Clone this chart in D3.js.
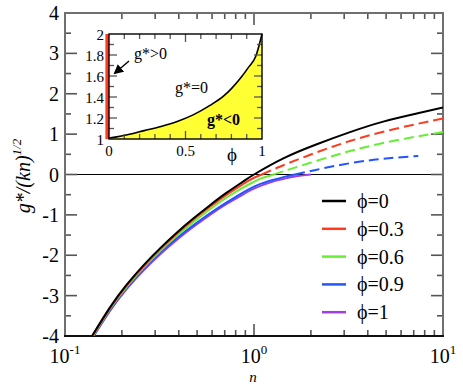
<!DOCTYPE html>
<html><head><meta charset="utf-8">
<script src="https://cdn.jsdelivr.net/npm/d3@7"></script>
<style>
body{margin:0;background:#fff}
svg{display:block}
</style>
</head><body>
<svg id="chart" width="463" height="387" font-family="'Liberation Serif','Times New Roman','DejaVu Serif','Noto Serif',serif"></svg>
<script>
// ---------------- data ----------------
const seriesLabels = ["ϕ=0","ϕ=0.3","ϕ=0.6","ϕ=0.9","ϕ=1"];
const seriesColors = ["#000000","#ff3b1f","#66ee33","#2255ff","#a040e0"];

// solid branches (g* < 0, plus phi=0 everywhere)
const solidN = [
  [0.139,0.173,0.212,0.26,0.318,0.39,0.477,0.585,0.717,0.878,1.0,1.43,2.15,3.22,4.83,7.26,10],
  [0.139,0.173,0.212,0.26,0.318,0.39,0.477,0.585,0.717,0.878,1.0,1.1],
  [0.139,0.173,0.212,0.26,0.318,0.39,0.477,0.585,0.717,0.878,1.0,1.1,1.27],
  [0.139,0.173,0.212,0.26,0.318,0.39,0.477,0.585,0.717,0.878,1.0,1.1,1.27,1.43,1.65],
  [0.139,0.173,0.212,0.26,0.318,0.39,0.477,0.585,0.717,0.878,1.0,1.1,1.27,1.43,1.65,2.0]
];
const solidG = [
  [-4.0,-3.29,-2.73,-2.25,-1.83,-1.44,-1.09,-0.76,-0.45,-0.17,0,0.40,0.75,1.05,1.31,1.51,1.66],
  [-4.02,-3.31,-2.75,-2.28,-1.86,-1.47,-1.12,-0.80,-0.50,-0.23,-0.08,0],
  [-4.04,-3.33,-2.78,-2.31,-1.90,-1.52,-1.18,-0.86,-0.57,-0.32,-0.18,-0.09,0],
  [-4.06,-3.36,-2.81,-2.35,-1.94,-1.58,-1.26,-0.96,-0.69,-0.44,-0.30,-0.22,-0.13,-0.065,0],
  [-4.07,-3.38,-2.84,-2.38,-1.98,-1.62,-1.30,-1.00,-0.73,-0.49,-0.35,-0.27,-0.17,-0.11,-0.05,0]
];
// dashed branches (g* > 0)
const dashN = [
  [],
  [1.1,1.43,2.15,3.22,4.83,7.26,10],
  [1.27,1.43,2.15,3.22,4.83,7.26,10],
  [1.65,2.15,3.22,4.83,7.4],
  []
];
const dashG = [
  [],
  [0,0.23,0.55,0.83,1.06,1.25,1.39],
  [0,0.08,0.34,0.58,0.78,0.94,1.05],
  [0,0.12,0.28,0.39,0.46],
  []
];

// inset: boundary n*(phi)
const insetPhi = [0,0.05,0.12,0.23,0.34,0.45,0.55,0.66,0.75,0.80,0.86,0.91,0.96,1.0];
const insetN   = [1.01,1.02,1.04,1.08,1.12,1.17,1.23,1.32,1.41,1.48,1.58,1.68,1.79,2.0];

const yTickLabels = [4,3,2,1,0,-1,-2,-3,-4];
const xDecades = [{v:0.1,e:"-1"},{v:1,e:"0"},{v:10,e:"1"}];
const insetYLabels = ["1","1.2","1.4","1.6","1.8","2"];
const insetXLabels = ["0","0.5","1"];

// ---------------- drawing ----------------
const svg = d3.select("#chart");
const L=65, R=443, T=13, B=336;
const x = d3.scaleLog().domain([0.1,10]).range([L,R]);
const y = d3.scaleLinear().domain([-4,4]).range([B,T]);
const frameCol = "#707070", tickCol = "#555";

// zero line
svg.append("line").attr("x1",L).attr("x2",R).attr("y1",y(0)).attr("y2",y(0))
  .attr("stroke","#000").attr("stroke-width",1.2);

// ticks
const minorX = [];
[0.1,1].forEach(d=>{for(let k=2;k<=9;k++) minorX.push(d*k);});
function vtick(xp, y0, len){ svg.append("line").attr("x1",xp).attr("x2",xp).attr("y1",y0).attr("y2",y0+len).attr("stroke",tickCol).attr("stroke-width",1.6); }
function htick(yp, x0, len){ svg.append("line").attr("x1",x0).attr("x2",x0+len).attr("y1",yp).attr("y2",yp).attr("stroke",tickCol).attr("stroke-width",1.6); }
xDecades.forEach(d=>{ vtick(x(d.v),B,-12); vtick(x(d.v),T,12); });
minorX.forEach(v=>{ vtick(x(v),B,-6); vtick(x(v),T,6); });
d3.range(-4,4.01,1).forEach(v=>{ htick(y(v),L,12); htick(y(v),R,-12); });
d3.range(-3.5,4,1).forEach(v=>{ htick(y(v),L,6); htick(y(v),R,-6); });

// frame
svg.append("line").attr("x1",L).attr("x2",L).attr("y1",T).attr("y2",B).attr("stroke",frameCol).attr("stroke-width",2);
svg.append("line").attr("x1",R).attr("x2",R).attr("y1",T).attr("y2",B).attr("stroke",frameCol).attr("stroke-width",2);
svg.append("line").attr("x1",L-1).attr("x2",R+1).attr("y1",T).attr("y2",T).attr("stroke",frameCol).attr("stroke-width",2);
svg.append("line").attr("x1",L-1).attr("x2",R+1).attr("y1",B).attr("y2",B).attr("stroke","#111").attr("stroke-width",2);

// y tick labels
yTickLabels.forEach(v=>{
  svg.append("text").attr("x",59).attr("y",y(v)+7).attr("text-anchor","end")
    .attr("font-size",20).text(v<0?"-"+Math.abs(v):String(v));
});
// x tick labels
xDecades.forEach(d=>{
  const t = svg.append("text").attr("x",x(d.v)).attr("y",363).attr("text-anchor","middle").attr("font-size",20);
  t.append("tspan").text("10");
  t.append("tspan").attr("dy",-9).attr("font-size",13).text(d.e);
});
// axis titles
svg.append("text").attr("x",253).attr("y",382).attr("text-anchor","middle")
  .attr("font-size",15).attr("font-style","italic").text("n");
const yl = svg.append("text").attr("transform","translate(30,176) rotate(-90)")
  .attr("text-anchor","middle").attr("font-size",20).attr("font-style","italic");
yl.append("tspan").text("g*/(kn)");
yl.append("tspan").attr("dy",-9).attr("font-size",13).text("1/2");

// curves
const line = d3.line().x(d=>x(d[0])).y(d=>y(d[1])).curve(d3.curveNatural);
svg.append("clipPath").attr("id","pc").append("rect")
  .attr("x",L).attr("y",T).attr("width",R-L).attr("height",B-T);
const g = svg.append("g").attr("clip-path","url(#pc)");
[4,3,2,1,0].forEach(i=>{
  g.append("path").attr("d",line(solidN[i].map((n,k)=>[n,solidG[i][k]])))
    .attr("fill","none").attr("stroke",seriesColors[i]).attr("stroke-width",2);
  if(dashN[i].length)
    g.append("path").attr("d",line(dashN[i].map((n,k)=>[n,dashG[i][k]])))
      .attr("fill","none").attr("stroke",seriesColors[i]).attr("stroke-width",2)
      .attr("stroke-dasharray","10,5");
});

// legend
seriesLabels.forEach((s,i)=>{
  const ly = 201 + i*27.8;
  svg.append("line").attr("x1",322).attr("x2",346).attr("y1",ly).attr("y2",ly)
    .attr("stroke",seriesColors[i]).attr("stroke-width",2.5);
  svg.append("text").attr("x",357).attr("y",ly+7).attr("font-size",20).text(s);
});

// ---------------- inset ----------------
const iL=109, iR=262, iT=34, iB=139;
const ix = d3.scaleLinear().domain([0,1]).range([iL,iR]);
const iy = d3.scaleLinear().domain([1,2]).range([iB,iT]);
svg.append("rect").attr("x",iL).attr("y",iT).attr("width",iR-iL).attr("height",iB-iT).attr("fill","#fff");
const pts = insetPhi.map((p,k)=>[p,insetN[k]]);
const area = d3.area().x(d=>ix(d[0])).y0(iy(1)).y1(d=>iy(d[1])).curve(d3.curveMonotoneX);
svg.append("path").attr("d",area(pts)).attr("fill","#ffff33");
svg.append("path").attr("d",d3.line().x(d=>ix(d[0])).y(d=>iy(d[1])).curve(d3.curveMonotoneX)(pts))
  .attr("fill","none").attr("stroke","#000").attr("stroke-width",1.6);
// inset ticks
function ivt(xp,y0,len){ svg.append("line").attr("x1",xp).attr("x2",xp).attr("y1",y0).attr("y2",y0+len).attr("stroke",tickCol).attr("stroke-width",1.3); }
function iht(yp,x0,len){ svg.append("line").attr("x1",x0).attr("x2",x0+len).attr("y1",yp).attr("y2",yp).attr("stroke",tickCol).attr("stroke-width",1.3); }
d3.range(0.1,1,0.1).forEach(v=>{ const big = Math.abs(v-0.5)<1e-6; ivt(ix(v),iB,big?-8:-5); ivt(ix(v),iT,big?8:5); });
d3.range(1.1,2,0.1).forEach(v=>{ const big = Math.round(v*10)%2===0; iht(iy(v),iL,big?8:5); iht(iy(v),iR,big?-8:-5); });
// red band at phi=0
svg.append("line").attr("x1",ix(0)-1.8).attr("x2",ix(0)-1.8).attr("y1",iT).attr("y2",iB)
  .attr("stroke","#ff3b1f").attr("stroke-width",3.6);
svg.append("rect").attr("x",iL).attr("y",iT).attr("width",iR-iL).attr("height",iB-iT)
  .attr("fill","none").attr("stroke","#000").attr("stroke-width",1.4);
// inset labels
insetYLabels.forEach(s=>{
  svg.append("text").attr("x",104).attr("y",iy(+s)+5.5).attr("text-anchor","end").attr("font-size",15).text(s);
});
insetXLabels.forEach(s=>{
  svg.append("text").attr("x",ix(+s)).attr("y",156).attr("text-anchor","middle").attr("font-size",15).text(s);
});
svg.append("text").attr("x",232).attr("y",161).attr("text-anchor","middle").attr("font-size",19).text("ϕ");
svg.append("text").attr("x",134).attr("y",59).attr("font-size",16).text("g*>0");
svg.append("text").attr("x",175).attr("y",93).attr("font-size",16).text("g*=0");
svg.append("text").attr("x",207).attr("y",125).attr("font-size",16).attr("font-weight","bold").text("g*<0");
// arrow
svg.append("defs").append("marker").attr("id","ah").attr("viewBox","0 0 10 10").attr("refX",8).attr("refY",5)
  .attr("markerWidth",7).attr("markerHeight",7).attr("orient","auto")
  .append("path").attr("d","M0,0 L10,5 L0,10 z").attr("fill","#000");
svg.append("line").attr("x1",129).attr("y1",61).attr("x2",115).attr("y2",73)
  .attr("stroke","#000").attr("stroke-width",1.4).attr("marker-end","url(#ah)");
</script>
</body></html>
